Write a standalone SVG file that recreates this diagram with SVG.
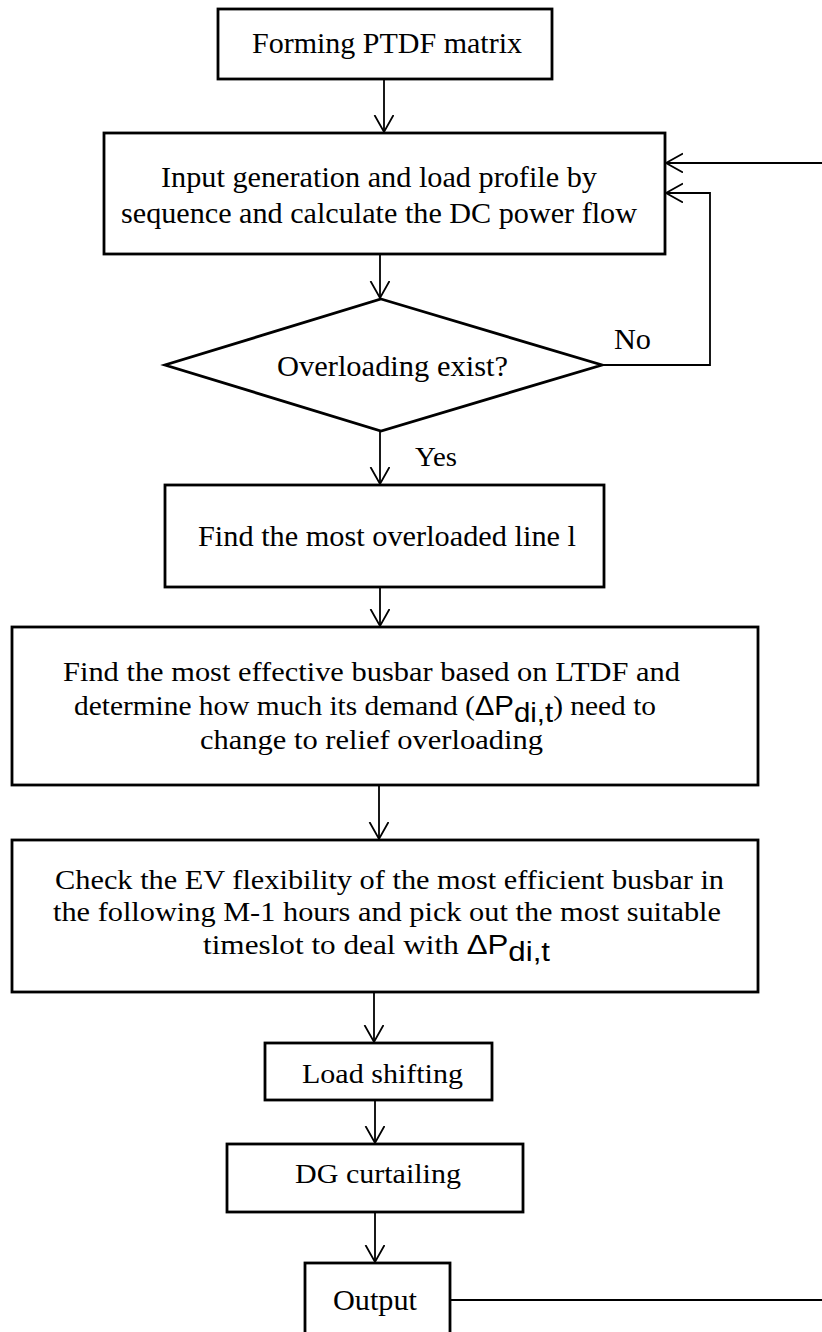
<svg xmlns="http://www.w3.org/2000/svg" width="822" height="1332" viewBox="0 0 822 1332">
<defs>
<marker id="ah" markerWidth="20" markerHeight="22" refX="17" refY="10" orient="auto" markerUnits="userSpaceOnUse">
<path d="M0,0.5 L17,10 L0,19.5" fill="none" stroke="#000" stroke-width="1.8"/>
</marker>
<style>
.box{fill:#fff;stroke:#000;stroke-width:2.8}
.t{font-family:"Liberation Serif","Times New Roman",serif;fill:#000}
.s{font-family:"Liberation Sans",Arial,sans-serif}
.c{fill:none;stroke:#000;stroke-width:1.8}
</style>
</defs>
<rect width="822" height="1332" fill="#fff"/>
<g id="connectors">
<path class="c" d="M384,79 V132" marker-end="url(#ah)"/>
<path class="c" d="M380,254 V298" marker-end="url(#ah)"/>
<path class="c" d="M602,365 H710 V193 H666" marker-end="url(#ah)"/>
<path class="c" d="M380,431 V484" marker-end="url(#ah)"/>
<path class="c" d="M380,587 V626" marker-end="url(#ah)"/>
<path class="c" d="M379,785 V839" marker-end="url(#ah)"/>
<path class="c" d="M374,992 V1042" marker-end="url(#ah)"/>
<path class="c" d="M375,1100 V1143" marker-end="url(#ah)"/>
<path class="c" d="M375,1212 V1262" marker-end="url(#ah)"/>
<path class="c" d="M450,1300 H828 V163 H666" marker-end="url(#ah)"/>
<text class="t" x="614" y="349" font-size="29" textLength="37" lengthAdjust="spacingAndGlyphs">No</text>
<text class="t" x="415" y="466" font-size="28" textLength="42" lengthAdjust="spacingAndGlyphs">Yes</text>
</g>
<g id="n1">
<rect class="box" x="218" y="9" width="334" height="70"/>
<text class="t" x="252" y="53" font-size="30" textLength="270" lengthAdjust="spacingAndGlyphs">Forming PTDF matrix</text>
</g>
<g id="n2">
<rect class="box" x="104" y="133" width="561" height="121"/>
<text class="t" x="161" y="187" font-size="29" textLength="436" lengthAdjust="spacingAndGlyphs">Input generation and load profile by</text>
<text class="t" x="121" y="223" font-size="29" textLength="516" lengthAdjust="spacingAndGlyphs">sequence and calculate the DC power flow</text>
</g>
<g id="n3">
<polygon points="381,299 602,365 381,431 165,365" fill="#fff" stroke="#000" stroke-width="2.8"/>
<text class="t" x="277" y="376" font-size="29" textLength="231" lengthAdjust="spacingAndGlyphs">Overloading exist?</text>
</g>
<g id="n4">
<rect class="box" x="165" y="485" width="439" height="102"/>
<text class="t" x="198" y="546" font-size="29" textLength="378" lengthAdjust="spacingAndGlyphs">Find the most overloaded line l</text>
</g>
<g id="n5">
<rect class="box" x="12" y="627" width="746" height="158"/>
<text class="t" x="63" y="681" font-size="28" textLength="617" lengthAdjust="spacingAndGlyphs">Find the most effective busbar based on LTDF and</text>
<text class="t" x="74" y="715" font-size="28" textLength="582" lengthAdjust="spacingAndGlyphs">determine how much its demand (<tspan class="s">ΔP</tspan><tspan class="s" dy="7">di,t</tspan><tspan dy="-7">) need to</tspan></text>
<text class="t" x="200" y="749" font-size="28" textLength="343" lengthAdjust="spacingAndGlyphs">change to relief overloading</text>
</g>
<g id="n6">
<rect class="box" x="12" y="840" width="746" height="152"/>
<text class="t" x="55" y="889" font-size="27" textLength="669" lengthAdjust="spacingAndGlyphs">Check the EV flexibility of the most efficient busbar in</text>
<text class="t" x="53" y="921" font-size="27" textLength="668" lengthAdjust="spacingAndGlyphs">the following M-1 hours and pick out the most suitable</text>
<text class="t" x="203" y="954" font-size="27" textLength="347" lengthAdjust="spacingAndGlyphs">timeslot to deal with <tspan class="s">ΔP</tspan><tspan class="s" dy="7">di,t</tspan></text>
</g>
<g id="n7">
<rect class="box" x="265" y="1043" width="227" height="57"/>
<text class="t" x="302" y="1083" font-size="28" textLength="161" lengthAdjust="spacingAndGlyphs">Load shifting</text>
</g>
<g id="n8">
<rect class="box" x="227" y="1144" width="296" height="68"/>
<text class="t" x="295" y="1183" font-size="28" textLength="166" lengthAdjust="spacingAndGlyphs">DG curtailing</text>
</g>
<g id="n9">
<rect class="box" x="305" y="1263" width="145" height="90"/>
<text class="t" x="333" y="1310" font-size="29" textLength="84" lengthAdjust="spacingAndGlyphs">Output</text>
</g>
</svg>
